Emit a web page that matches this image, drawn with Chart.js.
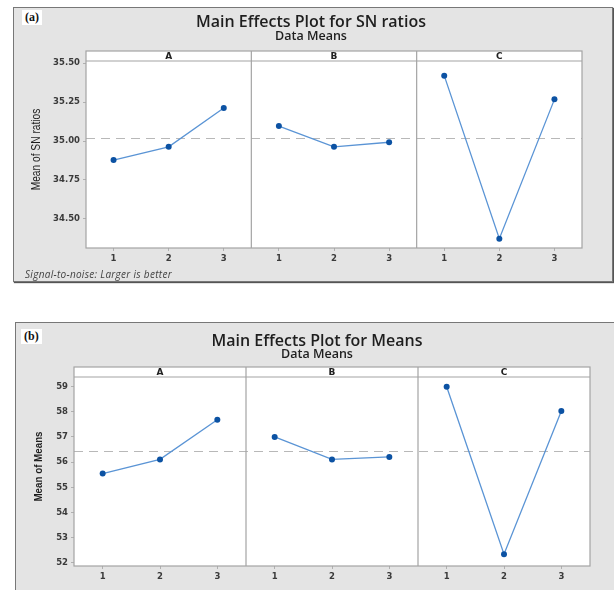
<!DOCTYPE html>
<html>
<head>
<meta charset="utf-8">
<script src="https://cdn.jsdelivr.net/npm/chart.js@4/dist/chart.umd.min.js"></script>
<style>
  html, body { margin: 0; overflow: hidden; }
  body { width: 614px; height: 590px; position: relative; background: #fff; }
  .panel { position: absolute; box-sizing: border-box; background: #e4e4e4; border: 1px solid #777; box-shadow: 1px 1px 1px #555; }
  canvas { position: absolute; }
  .tag { position: absolute; background: #fff; font: bold 12px 'Liberation Serif', serif; color: #111; padding: 0 3px; line-height: 15px; }
  .title { position: absolute; text-align: center; color: #1e1e1e; font-family: 'Open Sans', sans-serif; white-space: nowrap; transform: translateX(-50%); }
  .main { font-size: 16px; font-weight: 600; line-height: 18px; }
  .sub { font-size: 12.5px; font-weight: 600; line-height: 14px; }
  .note { position: absolute; font: italic 10px 'Open Sans', sans-serif; color: #444; letter-spacing: 0.3px; }
</style>
</head>
<body>
<div class="panel" style="left:13px; top:7px; width:600px; height:275px;"></div>
<div class="panel" style="left:15px; top:322px; width:640px; height:300px;"></div>

<canvas id="snChart" width="599" height="274" style="left:13px; top:7px;"></canvas>
<canvas id="meanChart" width="599" height="268" style="left:15px; top:322px;"></canvas>

<div class="tag" style="left:22px; top:10px;">(a)</div>
<div class="title main" style="left:311px; top:12px;">Main Effects Plot for SN ratios</div>
<div class="title sub" style="left:311px; top:29px;">Data Means</div>
<div class="note" style="left:25px; top:267px;">Signal-to-noise: Larger is better</div>

<div class="tag" style="left:21px; top:329px;">(b)</div>
<div class="title main" style="left:317px; top:331px;">Main Effects Plot for Means</div>
<div class="title sub" style="left:317px; top:347px;">Data Means</div>

<script>
const factors = ['A', 'B', 'C'];
const levels = ['1', '2', '3'];

// Mean signal-to-noise ratio at each level of A, B, C
const snA = [34.878, 34.963, 35.212];
const snB = [35.096, 34.963, 34.992];
const snC = [35.419, 34.374, 35.267];
const snTicks = [34.50, 34.75, 35.00, 35.25, 35.50];

// Mean response at each level of A, B, C
const meanA = [55.55, 56.11, 57.68];
const meanB = [57.00, 56.11, 56.21];
const meanC = [58.99, 52.35, 58.03];
const meanTicks = [52, 53, 54, 55, 56, 57, 58, 59];

const LINE = '#5a94d5';
const MARK = '#0c52a3';
const FRAME = '#a4a4a4';

// White panel boxes, facet strips, dividers and the grand-mean reference line
const facetFrame = {
  id: 'facetFrame',
  beforeDraw(chart, args, opts) {
    const { ctx, chartArea: a } = chart;
    const stripTop = a.top - opts.strip;
    ctx.save();
    ctx.fillStyle = '#fff';
    ctx.fillRect(a.left, stripTop, a.right - a.left, a.bottom - stripTop);
    ctx.restore();
  },
  beforeDatasetsDraw(chart, args, opts) {
    const { ctx, chartArea: a, scales: { x, y } } = chart;
    const stripTop = a.top - opts.strip;
    const values = chart.data.datasets.flatMap(d => d.data.filter(v => v !== null));
    const grand = values.reduce((s, v) => s + v, 0) / values.length;
    const gy = Math.round(y.getPixelForValue(grand)) + 0.5;

    ctx.save();
    ctx.strokeStyle = '#b8b8b8';
    ctx.lineWidth = 1;
    ctx.setLineDash([9, 6]);
    ctx.beginPath();
    ctx.moveTo(a.left, gy);
    ctx.lineTo(a.right, gy);
    ctx.stroke();
    ctx.setLineDash([]);

    ctx.strokeStyle = FRAME;
    ctx.lineWidth = 1.2;
    ctx.strokeRect(a.left, stripTop, a.right - a.left, a.bottom - stripTop);
    ctx.beginPath();
    ctx.moveTo(a.left, a.top);
    ctx.lineTo(a.right, a.top);
    const per = levels.length;
    for (let i = 1; i < factors.length; i++) {
      const xv = (x.getPixelForValue(i * per - 1) + x.getPixelForValue(i * per)) / 2;
      ctx.moveTo(xv, stripTop);
      ctx.lineTo(xv, a.bottom);
    }
    ctx.stroke();

    ctx.fillStyle = '#222';
    ctx.font = 'bold 9px "DejaVu Sans", sans-serif';
    ctx.textAlign = 'center';
    ctx.textBaseline = 'middle';
    factors.forEach((f, i) => {
      const cx = x.getPixelForValue(i * per + 1);
      ctx.fillText(f, cx, stripTop + opts.strip / 2 + 0.5);
    });
    ctx.restore();
  },
  // condensed vertical axis title, centred on the framed area
  afterDraw(chart, args, opts) {
    const { ctx, chartArea: a } = chart;
    const stripTop = a.top - opts.strip;
    ctx.save();
    ctx.translate(opts.titleX, (stripTop + a.bottom) / 2);
    ctx.rotate(-Math.PI / 2);
    ctx.scale(0.85, 1);
    ctx.fillStyle = '#1e1e1e';
    ctx.font = opts.titleFont;
    ctx.textAlign = 'center';
    ctx.textBaseline = 'middle';
    ctx.fillText(opts.title, 0, 0);
    ctx.restore();
  }
};

function buildChart(id, series, cfg) {
  const labels = factors.flatMap(() => levels);
  const per = levels.length;
  const datasets = series.map((vals, i) => ({
    label: factors[i],
    data: labels.map((_, j) => (Math.floor(j / per) === i ? vals[j % per] : null)),
    borderColor: LINE,
    borderWidth: 1.3,
    pointBackgroundColor: MARK,
    pointBorderColor: MARK,
    pointRadius: 3,
    pointBorderWidth: 0,
    spanGaps: false,
    tension: 0
  }));

  return new Chart(document.getElementById(id), {
    type: 'line',
    data: { labels, datasets },
    plugins: [facetFrame],
    options: {
      responsive: false,
      animation: false,
      devicePixelRatio: 1,
      layout: { padding: cfg.padding },
      plugins: {
        legend: { display: false },
        tooltip: { enabled: false },
        facetFrame: { strip: 10, title: cfg.title, titleFont: cfg.titleFont, titleX: cfg.titleX }
      },
      scales: {
        x: {
          type: 'category',
          offset: true,
          border: { display: false },
          grid: { display: true, drawOnChartArea: false, drawTicks: true, tickLength: 3, color: '#b0b0b0' },
          ticks: {
            autoSkip: false, maxRotation: 0, padding: 3, color: '#3a3a3a',
            font: { family: 'DejaVu Sans', size: 8.5, weight: 'bold' }
          },
          afterFit: s => { s.height = cfg.xHeight; }
        },
        y: {
          type: 'linear',
          min: cfg.min,
          max: cfg.max,
          border: { display: false },
          grid: { display: true, drawOnChartArea: false, drawTicks: true, tickLength: 3, color: '#b0b0b0' },
          afterBuildTicks: s => { s.ticks = cfg.ticks.map(v => ({ value: v })); },
          ticks: {
            padding: 3, color: '#3a3a3a',
            font: { family: 'DejaVu Sans', size: 8.5, weight: 'bold' },
            callback: v => cfg.fmt(v)
          },
          afterFit: s => { s.width = cfg.yWidth; }
        }
      }
    }
  });
}

buildChart('snChart', [snA, snB, snC], {
  min: 34.314, max: 35.513, ticks: snTicks, fmt: v => v.toFixed(2),
  title: 'Mean of SN ratios', titleFont: '12px "Liberation Sans", sans-serif', titleX: 24,
  yWidth: 73, xHeight: 20,
  padding: { top: 54, right: 30, bottom: 13, left: 0 }
});

buildChart('meanChart', [meanA, meanB, meanC], {
  min: 51.88, max: 59.38, ticks: meanTicks, fmt: v => String(v),
  title: 'Mean of Means', titleFont: 'bold 11.5px "Liberation Sans", sans-serif', titleX: 24,
  yWidth: 59, xHeight: 20,
  padding: { top: 55, right: 24, bottom: 4, left: 0 }
});
</script>
</body>
</html>
